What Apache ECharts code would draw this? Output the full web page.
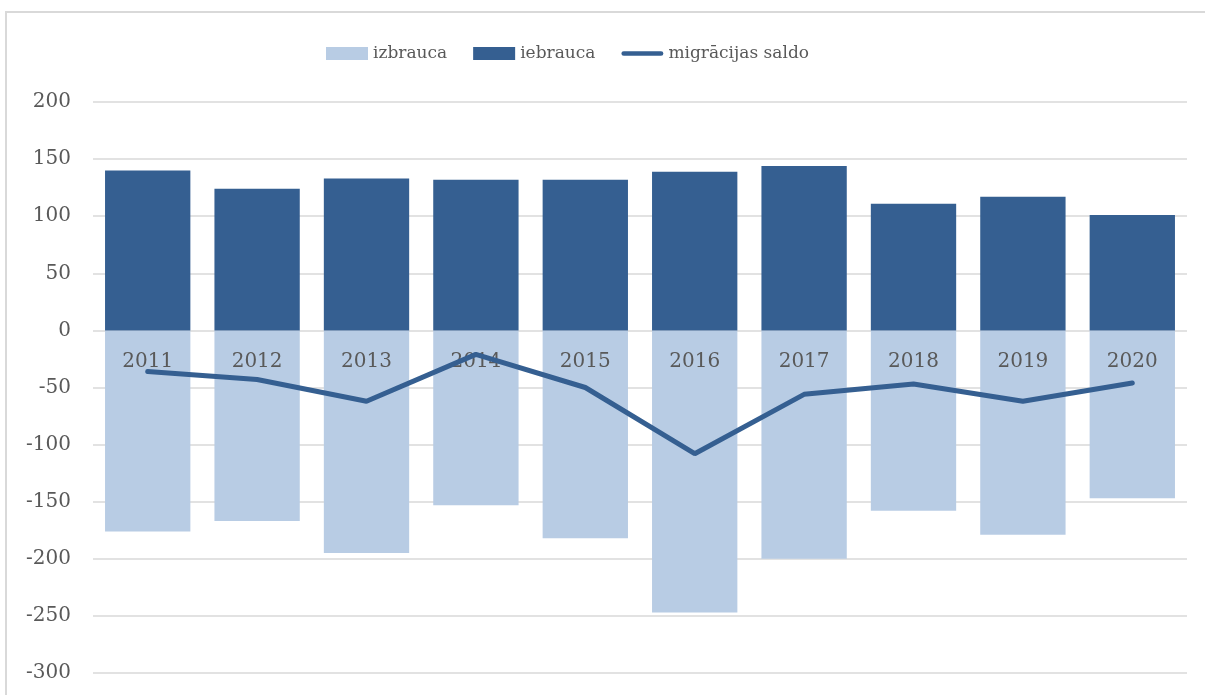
<!DOCTYPE html>
<html>
<head>
<meta charset="utf-8">
<script src="https://cdn.jsdelivr.net/npm/echarts@6/dist/echarts.min.js"></script>
<style>
  html, body { margin: 0; padding: 0; background: #fff; }
  #chart { width: 1205px; height: 695px; }
</style>
</head>
<body>
<div id="chart"></div>
<script>
// gadi
const years = ['2011', '2012', '2013', '2014', '2015', '2016', '2017', '2018', '2019', '2020']
// izbraukušie (negatīvi)
const izbrauca = [-176, -167, -195, -153, -182, -247, -200, -158, -179, -147]
// iebraukušie
const iebrauca = [140, 124, 133, 132, 132, 139, 144, 111, 117, 101]
// migrācijas saldo
const saldo = [-36, -43, -62, -21, -50, -108, -56, -47, -62, -46]

const font = 'DejaVu Serif'
const textColor = '#595959'
const dark = '#355f91'
const light = '#b8cce4'

// līnijas ikona leģendai (bieza līnija ar noapaļotiem galiem)
const lineIcon = 'path://M0,0M45,13M2.5,4L42.5,4A2.5,2.5,0,0,1,42.5,9L2.5,9A2.5,2.5,0,0,1,2.5,4Z'

const chart = echarts.init(document.getElementById('chart'))
chart.setOption({
  animation: false,
  graphic: [{
    type: 'rect',
    shape: { x: 6, y: 12, width: 1260, height: 760 },
    style: { fill: 'none', stroke: '#d9d9d9', lineWidth: 2 },
    silent: true
  }],
  legend: {
    top: 40,
    left: 321,
    itemWidth: 42,
    itemHeight: 13,
    itemGap: 26,
    textStyle: { fontFamily: font, fontSize: 17, color: textColor },
    data: [
      { name: 'izbrauca', icon: 'rect' },
      { name: 'iebrauca', icon: 'rect' },
      { name: 'migrācijas saldo', icon: lineIcon, itemStyle: { color: dark } }
    ]
  },
  grid: { left: 93, right: 18, top: 102, bottom: 22, outerBoundsMode: 'none' },
  xAxis: {
    type: 'category',
    data: years,
    offset: -343,
    z: 5,
    axisLine: { show: false },
    axisTick: { show: false },
    axisLabel: { fontFamily: font, fontSize: 20, color: textColor, margin: 22 }
  },
  yAxis: {
    type: 'value',
    min: -300,
    max: 200,
    interval: 50,
    axisLabel: { fontFamily: font, fontSize: 20, color: textColor, margin: 22 },
    splitLine: { lineStyle: { color: '#d9d9d9', width: 1.5 } }
  },
  series: [
    {
      name: 'izbrauca',
      type: 'bar',
      data: izbrauca,
      barWidth: '78%',
      barGap: '-100%',
      itemStyle: { color: light }
    },
    {
      name: 'iebrauca',
      type: 'bar',
      data: iebrauca,
      barWidth: '78%',
      itemStyle: { color: dark }
    },
    {
      name: 'migrācijas saldo',
      type: 'line',
      data: saldo,
      symbol: 'none',
      z: 10,
      lineStyle: { color: dark, width: 5, cap: 'round' },
      itemStyle: { color: dark }
    }
  ]
})
</script>
</body>
</html>
